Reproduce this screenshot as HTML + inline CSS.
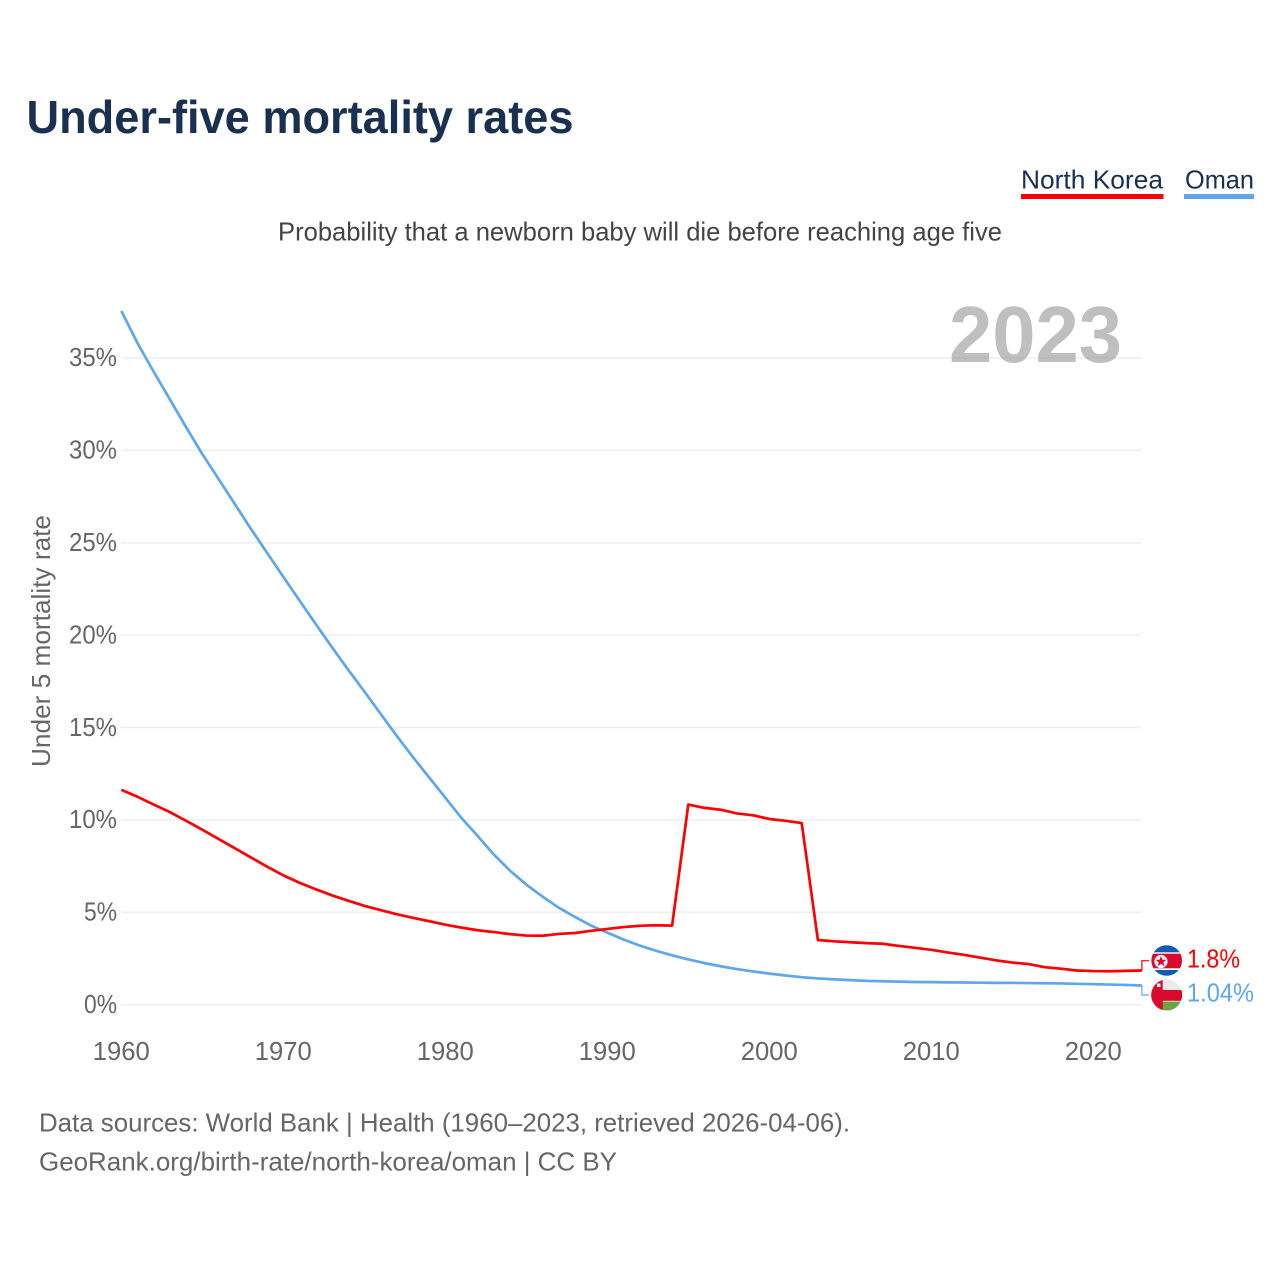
<!DOCTYPE html>
<html lang="en">
<head>
<meta charset="utf-8">
<title>Under-five mortality rates</title>
<style>
html,body{margin:0;padding:0;background:#fff;}
svg{display:block;}
text{font-family:"Liberation Sans",sans-serif;}
</style>
</head>
<body>
<svg id="chart" xmlns="http://www.w3.org/2000/svg" width="1280" height="1280" viewBox="0 0 1280 1280">
  <rect x="0" y="0" width="1280" height="1280" fill="#ffffff"/>
  <text x="26.500" y="133" font-size="46.500" font-weight="700" fill="#1a3050" textLength="547" lengthAdjust="spacingAndGlyphs">Under-five mortality rates</text>
  <g>
    <g>
      <text x="1021" y="188.500" font-size="26" fill="#1a3050" textLength="142" lengthAdjust="spacingAndGlyphs">North Korea</text>
      <rect x="1021" y="194" width="142.500" height="5" fill="#ff0000"/>
    </g>
    <g>
      <text x="1185" y="188.500" font-size="26" fill="#1a3050" textLength="69" lengthAdjust="spacingAndGlyphs">Oman</text>
      <rect x="1184" y="194" width="70" height="5" fill="#5ea6ee"/>
    </g>
  </g>
  <text x="278" y="240.500" font-size="26" fill="#444444" textLength="724" lengthAdjust="spacingAndGlyphs">Probability that a newborn baby will die before reaching age five</text>
  <g id="grid"></g>
  <text x="949" y="362" font-size="80" font-weight="700" fill="#808080" fill-opacity="0.5" textLength="173" lengthAdjust="spacingAndGlyphs">2023</text>
  <g id="yticks"></g>
  <g id="xticks"></g>
  <text transform="translate(50 767) rotate(-90)" x="0" y="0" font-size="26" fill="#666666" textLength="252" lengthAdjust="spacingAndGlyphs">Under 5 mortality rate</text>
  <g id="series"></g>
  <defs>
    <clipPath id="flag-nk-clip"><circle cx="1166.700" cy="960.500" r="15.300"/></clipPath>
    <clipPath id="flag-om-clip"><circle cx="1166.700" cy="995" r="15.500"/></clipPath>
  </defs>
  <g clip-path="url(#flag-nk-clip)">
    <rect x="1150" y="944" width="34" height="34" fill="#0f5cb8"/>
    <rect x="1150" y="952.300" width="34" height="17.700" fill="#ffffff"/>
    <rect x="1150" y="953.700" width="34" height="14.600" fill="#da0a2c"/>
    <circle cx="1161" cy="961.500" r="6.600" fill="#ffffff"/>
    <polygon points="1161,956 1162.500,959.800 1166.500,959.800 1163.300,962.300 1164.500,966.200 1161,963.900 1157.500,966.200 1158.700,962.300 1155.500,959.800 1159.500,959.800" fill="#da0a2c"/>
  </g>
  <g clip-path="url(#flag-om-clip)">
    <rect x="1150" y="979" width="34" height="33" fill="#eaeaea"/>
    <rect x="1150" y="990" width="34" height="10.800" fill="#da0a2c"/>
    <rect x="1150" y="1001.700" width="34" height="10" fill="#6aa53f"/>
    <rect x="1150" y="979" width="12.700" height="33" fill="#da0a2c"/>
    <rect x="1157" y="983.500" width="3.500" height="3.500" fill="#eeeeee"/>
  </g>
  <g id="labels"></g>
  <text x="39" y="1131.500" font-size="26" fill="#666666" textLength="811" lengthAdjust="spacingAndGlyphs">Data sources: World Bank | Health (1960–2023, retrieved 2026-04-06).</text>
  <text x="39" y="1170.500" font-size="26" fill="#666666" textLength="578" lengthAdjust="spacingAndGlyphs">GeoRank.org/birth-rate/north-korea/oman | CC BY</text>
</svg>
<script>
const startYear = 1960;
const xTickYears = [1960, 1970, 1980, 1990, 2000, 2010, 2020];
const yTickValues = [0, 5, 10, 15, 20, 25, 30, 35];
const yTickLabels = ["0%", "5%", "10%", "15%", "20%", "25%", "30%", "35%"];
const northKoreaValues = [
  11.63, 11.25, 10.83, 10.42, 9.95, 9.47, 8.97, 8.47, 7.97, 7.47,
  7.0, 6.6, 6.25, 5.92, 5.63, 5.35, 5.12, 4.9, 4.7, 4.52,
  4.33, 4.17, 4.03, 3.93, 3.82, 3.74, 3.73, 3.83, 3.88, 4.0,
  4.1, 4.2, 4.27, 4.3, 4.28, 10.83, 10.65, 10.55, 10.35, 10.25,
  10.05, 9.95, 9.83, 3.5, 3.43, 3.38, 3.33, 3.3, 3.18, 3.08,
  2.97, 2.83, 2.7, 2.55, 2.4, 2.28, 2.2, 2.03, 1.95, 1.85,
  1.82, 1.81, 1.83, 1.85
];
const omanValues = [
  37.54, 35.8, 34.25, 32.75, 31.25, 29.8, 28.45, 27.1, 25.75, 24.45,
  23.15, 21.87, 20.6, 19.35, 18.13, 16.95, 15.75, 14.55, 13.4, 12.3,
  11.2, 10.1, 9.13, 8.12, 7.25, 6.5, 5.85, 5.25, 4.75, 4.28,
  3.9, 3.53, 3.2, 2.92, 2.67, 2.45, 2.25, 2.08, 1.93, 1.8,
  1.68, 1.58, 1.49, 1.42, 1.37, 1.33, 1.29, 1.27, 1.25, 1.23,
  1.22, 1.21, 1.2, 1.19, 1.18, 1.18, 1.17, 1.16, 1.15, 1.13,
  1.11, 1.09, 1.07, 1.04
];
const northKoreaLabel = "1.8%";
const omanLabel = "1.04%";

const NS = "http://www.w3.org/2000/svg";
const xScale = function (year) { return 121.3 + (year - 1960) * 16.2; };
const yScale = function (v) { return 1004.7 - v * 18.48; };

function make(tag, parentId, attrs, text) {
  const el = document.createElementNS(NS, tag);
  Object.keys(attrs).forEach(function (k) { el.setAttribute(k, attrs[k]); });
  if (text !== undefined) el.textContent = text;
  document.getElementById(parentId).appendChild(el);
  return el;
}

yTickValues.forEach(function (v, i) {
  const y = yScale(v);
  const line = make("line", "grid", { x1: 121, x2: 1141.7, y1: y, y2: y, stroke: "#eeeeee", "stroke-width": 1.5 });
  
  
  const label = make("text", "yticks", { x: 117, y: y + 8.3, "text-anchor": "end", "font-size": 26, fill: "#666666", textLength: 15 * yTickLabels[i].length + 3, lengthAdjust: "spacingAndGlyphs" }, yTickLabels[i]);
  
  
});

xTickYears.forEach(function (year) {
  const label = make("text", "xticks", { x: xScale(year), y: 1060, "text-anchor": "middle", "font-size": 26, fill: "#666666", textLength: 57, lengthAdjust: "spacingAndGlyphs" }, String(year));
  
  
});

function pathFor(values) {
  return values.map(function (v, i) {
    return (i ? "L" : "M") + xScale(startYear + i).toFixed(2) + " " + yScale(v).toFixed(2);
  }).join(" ");
}

const omanLine = make("path", "series", { d: pathFor(omanValues), fill: "none", stroke: "#5ea6ee", "stroke-width": 2.7, "stroke-linejoin": "round" });


const nkLine = make("path", "series", { d: pathFor(northKoreaValues), fill: "none", stroke: "#ff0000", "stroke-width": 2.7, "stroke-linejoin": "round" });



const lastYear = startYear + omanValues.length - 1;
const endX = xScale(lastYear);
const nkEndY = yScale(northKoreaValues[northKoreaValues.length - 1]);
const omEndY = yScale(omanValues[omanValues.length - 1]);
const nkConn = make("path", "series", { d: "M" + endX + " " + nkEndY + " V960.7 H1149", fill: "none", stroke: "#ff0000", "stroke-width": 1.2 });


const omConn = make("path", "series", { d: "M" + endX + " " + omEndY + " V995 H1149", fill: "none", stroke: "#5ea6ee", "stroke-width": 1.2 });



const nkText = make("text", "labels", { x: 1187, y: 967.5, "font-size": 26, fill: "#ff0000", textLength: 53, lengthAdjust: "spacingAndGlyphs" }, northKoreaLabel);


const omText = make("text", "labels", { x: 1187, y: 1001.5, "font-size": 26, fill: "#5ea6ee", textLength: 67, lengthAdjust: "spacingAndGlyphs" }, omanLabel);


</script>
</body>
</html>
